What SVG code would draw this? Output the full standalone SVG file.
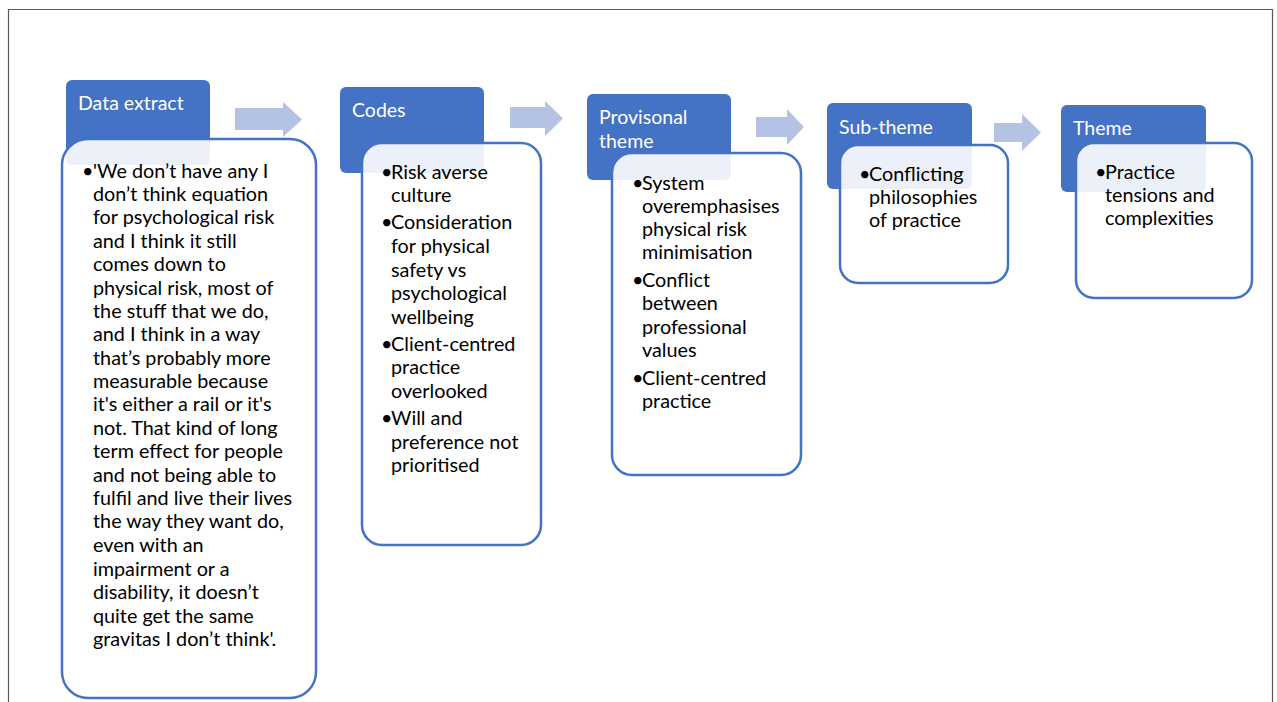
<svg xmlns="http://www.w3.org/2000/svg" width="1277" height="702" viewBox="0 0 1277 702">
<style>
.hdr{fill:#4472C4}
.body{fill:#FFFFFF;fill-opacity:0.9;stroke:#4472C4;stroke-width:2.5}
.ht{font-family:Lato,"Open Sans",sans-serif;font-size:19.5px;fill:#FFFFFF}
.bt{font-family:Lato,"Open Sans",sans-serif;font-size:19.8px;fill:#000000}
.arr{fill:#B4C2E3}
</style>
<rect width="1277" height="702" fill="#FFFFFF"/>
<path d="M8.5,702 V9.5 H1272.5 V702" fill="none" stroke="#595959" stroke-width="1.2"/>

<g id="connectors">
<path class="arr" d="M235,108 H283 V102 L302,119.5 L283,137 V130 H235 Z"/>
<path class="arr" d="M510,107 H545 V101 L563,118.5 L545,136 V128 H510 Z"/>
<path class="arr" d="M756,117 H787 V109 L804,127 L787,145 V137 H756 Z"/>
<path class="arr" d="M994,123 H1022 V114 L1041,132.5 L1022,151 V142 H994 Z"/>
</g>

<g id="node-data-extract">
<rect class="hdr" x="66" y="80" width="144" height="85" rx="6"/>
<text class="ht" x="78" y="110">Data extract</text>
<rect class="body" x="62" y="139" width="254" height="559" rx="26"/>
<text class="bt"><tspan x="82" y="178">•</tspan><tspan x="93" y="178">'We don’t have any I</tspan><tspan x="93" y="201">don’t think equation</tspan><tspan x="93" y="224">for psychological risk</tspan><tspan x="93" y="248">and I think it still</tspan><tspan x="93" y="271">comes down to</tspan><tspan x="93" y="295">physical risk, most of</tspan><tspan x="93" y="318">the stuff that we do,</tspan><tspan x="93" y="341">and I think in a way</tspan><tspan x="93" y="365">that’s probably more</tspan><tspan x="93" y="388">measurable because</tspan><tspan x="93" y="411">it's either a rail or it's</tspan><tspan x="93" y="435">not. That kind of long</tspan><tspan x="93" y="458">term effect for people</tspan><tspan x="93" y="482">and not being able to</tspan><tspan x="93" y="505">fulfil and live their lives</tspan><tspan x="93" y="528">the way they want do,</tspan><tspan x="93" y="552">even with an</tspan><tspan x="93" y="576">impairment or a</tspan><tspan x="93" y="599">disability, it doesn’t</tspan><tspan x="93" y="623">quite get the same</tspan><tspan x="93" y="646">gravitas I don’t think'.</tspan></text>
</g>

<g id="node-codes">
<rect class="hdr" x="340" y="87" width="144" height="86" rx="6"/>
<text class="ht" x="352" y="117">Codes</text>
<rect class="body" x="362" y="143" width="179" height="402" rx="20"/>
<text class="bt"><tspan x="381" y="179">•</tspan><tspan x="391" y="179">Risk averse</tspan><tspan x="391" y="202">culture</tspan><tspan x="381" y="229">•</tspan><tspan x="391" y="229">Consideration</tspan><tspan x="391" y="253">for physical</tspan><tspan x="391" y="277">safety vs</tspan><tspan x="391" y="300">psychological</tspan><tspan x="391" y="324">wellbeing</tspan><tspan x="381" y="351">•</tspan><tspan x="391" y="351">Client-centred</tspan><tspan x="391" y="374">practice</tspan><tspan x="391" y="398">overlooked</tspan><tspan x="381" y="425">•</tspan><tspan x="391" y="425">Will and</tspan><tspan x="391" y="449">preference not</tspan><tspan x="391" y="472">prioritised</tspan></text>
</g>

<g id="node-provisional-theme">
<rect class="hdr" x="587" y="94" width="144" height="86" rx="6"/>
<text class="ht"><tspan x="599" y="124">Provisonal</tspan><tspan x="599" y="148">theme</tspan></text>
<rect class="body" x="612" y="153" width="189" height="322" rx="20"/>
<text class="bt"><tspan x="632" y="190">•</tspan><tspan x="642" y="190">System</tspan><tspan x="642" y="213">overemphasises</tspan><tspan x="642" y="236">physical risk</tspan><tspan x="642" y="259">minimisation</tspan><tspan x="632" y="287">•</tspan><tspan x="642" y="287">Conflict</tspan><tspan x="642" y="310">between</tspan><tspan x="642" y="334">professional</tspan><tspan x="642" y="357">values</tspan><tspan x="632" y="385">•</tspan><tspan x="642" y="385">Client-centred</tspan><tspan x="642" y="408">practice</tspan></text>
</g>

<g id="node-sub-theme">
<rect class="hdr" x="827" y="103" width="145" height="86" rx="6"/>
<text class="ht" x="839" y="134">Sub-theme</text>
<rect class="body" x="840" y="145" width="168" height="138" rx="18"/>
<text class="bt"><tspan x="859" y="181">•</tspan><tspan x="869" y="181">Conflicting</tspan><tspan x="869" y="204">philosophies</tspan><tspan x="869" y="227">of practice</tspan></text>
</g>

<g id="node-theme">
<rect class="hdr" x="1061" y="105" width="145" height="87" rx="6"/>
<text class="ht" x="1073" y="135">Theme</text>
<rect class="body" x="1076" y="143" width="176" height="155" rx="18"/>
<text class="bt"><tspan x="1095" y="179">•</tspan><tspan x="1105" y="179">Practice</tspan><tspan x="1105" y="202">tensions and</tspan><tspan x="1105" y="225">complexities</tspan></text>
</g>
</svg>
